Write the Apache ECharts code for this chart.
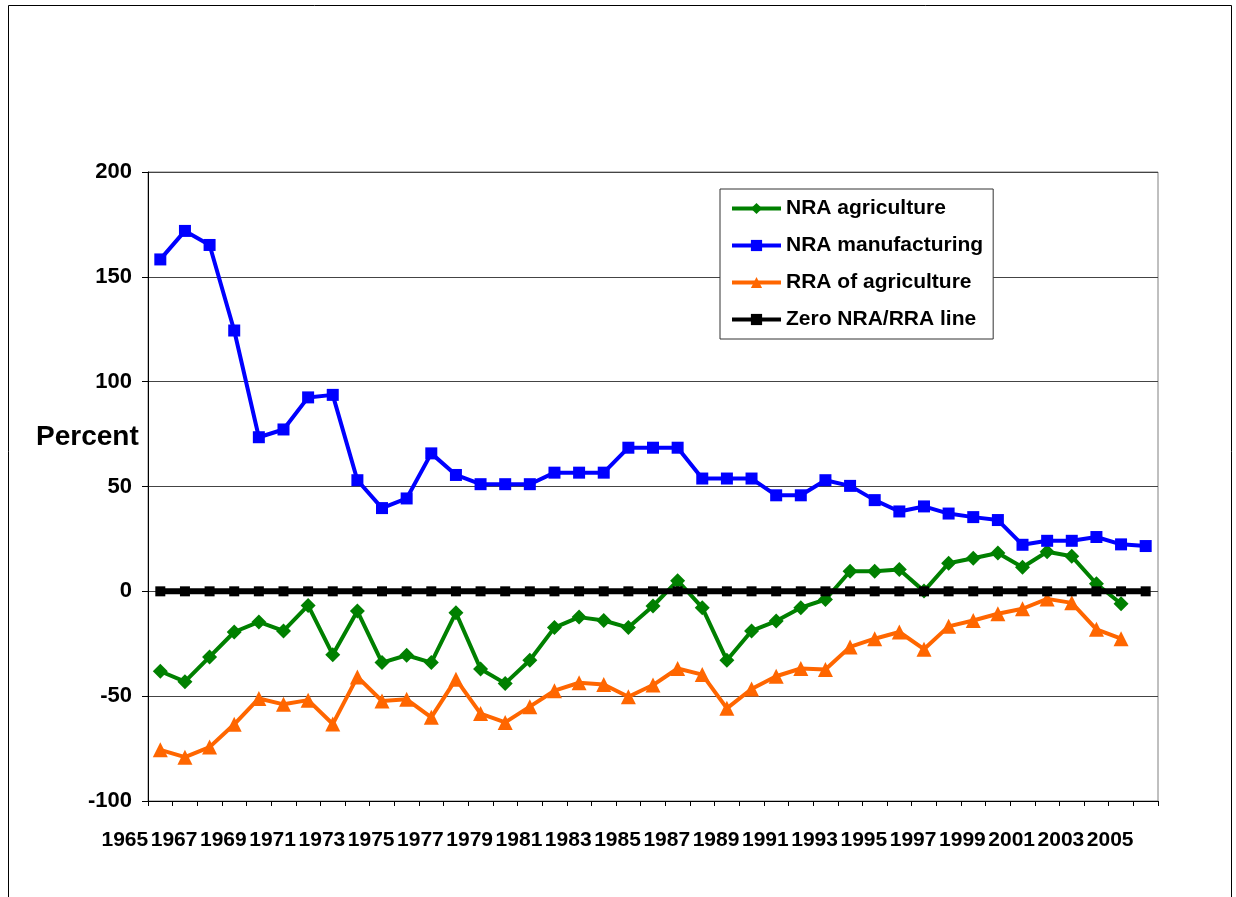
<!DOCTYPE html>
<html>
<head>
<meta charset="utf-8">
<script src="https://cdn.jsdelivr.net/npm/echarts@6/dist/echarts.min.js"></script>
<style>
  html, body { margin: 0; padding: 0; background: #fff; }
  #chart { width: 1236px; height: 897px; }
</style>
</head>
<body>
<div id="chart"></div>
<script>
// Years on the category axis
const years = ['1965','1966','1967','1968','1969','1970','1971','1972','1973','1974',
  '1975','1976','1977','1978','1979','1980','1981','1982','1983','1984',
  '1985','1986','1987','1988','1989','1990','1991','1992','1993','1994',
  '1995','1996','1997','1998','1999','2000','2001','2002','2003','2004','2005'];

// Nominal rate of assistance to agriculture, percent (1965-2004)
const nraAgriculture = [-38.1, -43.1, -31.3, -19.4, -14.6, -18.9, -6.7, -30.2, -9.4, -34.0,
  -30.5, -34.0, -10.2, -37.0, -43.9, -32.9, -17.3, -12.3, -13.9, -17.3,
  -7.0, 5.1, -7.8, -32.9, -18.9, -14.2, -7.8, -3.9, 9.6, 9.6,
  10.4, 0.1, 13.4, 15.8, 18.3, 11.5, 18.9, 16.7, 3.6, -5.9];

// Nominal rate of assistance to manufacturing, percent (1965-2005)
const nraManufacturing = [158.3, 171.9, 165.2, 124.4, 73.5, 77.2, 92.5, 93.7, 53.0, 39.7,
  44.3, 65.8, 55.5, 51.1, 51.1, 51.1, 56.6, 56.6, 56.6, 68.5,
  68.5, 68.5, 53.8, 53.8, 53.8, 45.8, 45.8, 53.0, 50.3, 43.5,
  38.1, 40.5, 37.1, 35.4, 34.0, 22.2, 24.1, 24.1, 25.9, 22.4, 21.6];

// Relative rate of assistance to agriculture, percent (1965-2004)
const rraAgriculture = [-75.6, -79.1, -74.3, -63.4, -51.1, -53.9, -51.9, -63.3, -40.8, -52.3,
  -51.5, -60.1, -41.9, -58.3, -62.5, -55.0, -47.4, -43.6, -44.4, -50.3,
  -44.7, -36.8, -39.7, -55.8, -46.6, -40.5, -36.8, -37.3, -26.5, -22.6,
  -19.4, -27.6, -16.7, -13.9, -10.7, -8.3, -3.6, -5.5, -18.1, -22.6];

// Reference line at zero
const zeroLine = [0, 0, 0, 0, 0, 0, 0, 0, 0, 0,
  0, 0, 0, 0, 0, 0, 0, 0, 0, 0,
  0, 0, 0, 0, 0, 0, 0, 0, 0, 0,
  0, 0, 0, 0, 0, 0, 0, 0, 0, 0, 0];

const yTicks = { min: -100, max: 200, step: 50 };

const FONT = '"Liberation Sans", Arial, sans-serif';

const chart = echarts.init(document.getElementById('chart'), null, { renderer: 'canvas' });

chart.setOption({
  animation: false,
  backgroundColor: '#fff',
  textStyle: { fontFamily: FONT },
  graphic: [
    {
      type: 'rect',
      shape: { x: 8.5, y: 5.5, width: 1223, height: 910 },
      style: { fill: 'none', stroke: '#000', lineWidth: 1 },
      silent: true,
      z: -10
    },
    {
      type: 'text',
      left: 36,
      top: 423,
      style: {
        text: 'Percent',
        font: 'bold 28px ' + FONT,
        fill: '#000'
      }
    }
  ],
  legend: {
    orient: 'vertical',
    left: 720,
    top: 189,
    padding: [9, 10, 9, 10],
    itemGap: 16,
    itemWidth: 49,
    itemHeight: 14,
    backgroundColor: '#fff',
    borderColor: '#333',
    borderWidth: 1,
    lineStyle: { width: 4 },
    textStyle: { fontFamily: FONT, fontSize: 21, fontWeight: 'bold', color: '#000' },
    data: ['NRA agriculture', 'NRA manufacturing', 'RRA of agriculture', 'Zero NRA/RRA line']
  },
  grid: {
    left: 148,
    top: 172,
    width: 1010,
    height: 629,
    show: true,
    borderColor: '#808080',
    borderWidth: 1,
    containLabel: false
  },
  xAxis: {
    type: 'category',
    data: years,
    boundaryGap: true,
    axisLine: { onZero: false, lineStyle: { color: '#000', width: 1 } },
    axisTick: { show: true, interval: 0, length: 5, inside: false, lineStyle: { color: '#000' } },
    axisLabel: {
      interval: 1,
      fontSize: 21,
      fontWeight: 'bold',
      color: '#000',
      margin: 29,
      padding: [0, 71, 0, 0]
    },
    splitLine: { show: false }
  },
  yAxis: {
    type: 'value',
    min: yTicks.min,
    max: yTicks.max,
    interval: yTicks.step,
    axisLine: { show: true, lineStyle: { color: '#000', width: 1 } },
    axisTick: { show: true, length: 6, inside: false, lineStyle: { color: '#000' } },
    axisLabel: { fontSize: 22, fontWeight: 'bold', color: '#000', margin: 16 },
    splitLine: { show: true, lineStyle: { color: '#444', width: 1 } }
  },
  series: [
    {
      name: 'NRA agriculture',
      type: 'line',
      data: nraAgriculture,
      color: '#008000',
      lineStyle: { width: 4, color: '#008000' },
      symbol: 'diamond',
      symbolSize: 15,
      itemStyle: { color: '#008000' },
      z: 2
    },
    {
      name: 'NRA manufacturing',
      type: 'line',
      data: nraManufacturing,
      color: '#0000FF',
      lineStyle: { width: 4, color: '#0000FF' },
      symbol: 'rect',
      symbolSize: 12,
      itemStyle: { color: '#0000FF' },
      z: 3
    },
    {
      name: 'RRA of agriculture',
      type: 'line',
      data: rraAgriculture,
      color: '#FF6600',
      lineStyle: { width: 4, color: '#FF6600' },
      symbol: 'triangle',
      symbolSize: 15,
      itemStyle: { color: '#FF6600' },
      z: 4
    },
    {
      name: 'Zero NRA/RRA line',
      type: 'line',
      data: zeroLine,
      color: '#000',
      lineStyle: { width: 6, color: '#000' },
      symbol: 'rect',
      symbolSize: 10,
      itemStyle: { color: '#000' },
      z: 5
    }
  ]
});
</script>
</body>
</html>
